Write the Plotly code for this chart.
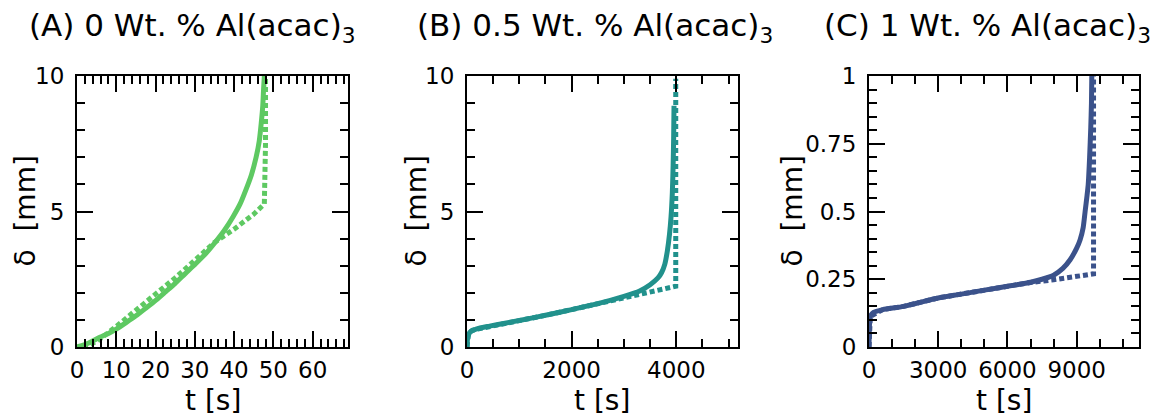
import plotly.graph_objects as go

# ---------------- data ----------------
# Panel A : 0 Wt.% Al(acac)3
a_solid_t = [0, 3, 5.8, 8, 10.2, 12.5, 15, 17.5, 20.2, 22.5, 25, 27.5, 30.2, 33, 35.4, 37.5,
             39.7, 41.5, 43, 44.4, 45.6, 46.4, 46.9, 47.3, 47.5, 47.7]
a_solid_d = [0, 0.15, 0.36, 0.5, 0.68, 0.9, 1.15, 1.43, 1.74, 2.03, 2.35, 2.7, 3.07, 3.48, 3.9,
             4.3, 4.8, 5.27, 5.8, 6.35, 7.0, 7.6, 8.25, 8.9, 9.5, 10]
a_dot_t = [1.5, 5, 10, 15, 20, 25, 30, 35, 40, 45, 47.7, 48.0, 48.0]
a_dot_d = [0, 0.2, 0.76, 1.35, 1.93, 2.55, 3.2, 3.86, 4.35, 4.9, 5.28, 7.5, 9.9]

# Panel B : 0.5 Wt.% Al(acac)3
b_solid_t = [0, 10, 30, 60, 120, 250, 430, 700, 1000, 1500, 2000, 2500, 3000, 3300, 3500,
             3650, 3720, 3780, 3830, 3870, 3900, 3925, 3940, 3950, 3957]
b_solid_d = [0, 0.3, 0.45, 0.55, 0.62, 0.7, 0.77, 0.87, 0.98, 1.17, 1.38, 1.6, 1.87, 2.07, 2.3,
             2.55, 2.75, 3.05, 3.55, 4.15, 4.8, 5.7, 6.7, 7.7, 8.9]
b_dot_t = [0, 30, 100, 500, 1000, 1500, 2000, 2500, 2800, 3000, 3500, 3990, 3990]
b_dot_d = [0, 0.5, 0.62, 0.79, 0.98, 1.17, 1.38, 1.6, 1.75, 1.84, 2.06, 2.24, 9.9]

# Panel C : 1 Wt.% Al(acac)3
c_solid_t = [0, 20, 58, 200, 600, 1500, 3000, 4000, 5000, 6000, 7000, 7500, 8000, 8400, 8716,
             9000, 9149, 9280, 9365, 9450, 9500, 9560, 9610, 9640, 9655]
c_solid_d = [0, 0.08, 0.113, 0.128, 0.138, 0.15, 0.181, 0.195, 0.21, 0.224, 0.239, 0.25, 0.265,
             0.29, 0.322, 0.365, 0.396, 0.44, 0.5, 0.56, 0.6, 0.7, 0.81, 0.9, 1.0]
c_dot_t = [0, 58, 600, 1500, 3000, 5000, 7000, 8000, 9000, 9730, 9730]
c_dot_d = [0, 0.113, 0.138, 0.15, 0.181, 0.21, 0.238, 0.248, 0.26, 0.27, 1.0]

titles = ["(A) 0 Wt. % Al(acac)<sub>3</sub>",
          "(B) 0.5 Wt. % Al(acac)<sub>3</sub>",
          "(C) 1 Wt. % Al(acac)<sub>3</sub>"]
colors = ["#5ec962", "#21918c", "#3b528b"]
x_ranges = [[0, 69], [0, 5180], [0, 11700]]
y_ranges = [[0, 10], [0, 10], [0, 1]]
x_dtick = [10, 2000, 3000]
x_minor = [2, 500, 1000]
y_dtick = [5, 5, 0.25]
y_minor = [1, 1, 0.05]

# ---------------- layout geometry (pixels) ----------------
W, H = 1161, 417
panels_px = [(77, 348), (467, 738), (869, 1139)]
top_px, bot_px = 76, 347
title_left_px = [27, 415, 822]
ytitle_x_px = [25, 416, 792]


def fx(p):
    return p / W


def fy(p):
    return 1 - p / H


FONT = "DejaVu Sans"
fig = go.Figure()

series = [(a_solid_t, a_solid_d, a_dot_t, a_dot_d),
          (b_solid_t, b_solid_d, b_dot_t, b_dot_d),
          (c_solid_t, c_solid_d, c_dot_t, c_dot_d)]

for i, (st, sd, dt, dd) in enumerate(series):
    xa = "x" if i == 0 else f"x{i+1}"
    ya = "y" if i == 0 else f"y{i+1}"
    fig.add_trace(go.Scatter(x=dt, y=dd, mode="lines", xaxis=xa, yaxis=ya,
                             line=dict(color=colors[i], width=5, dash="5px,3px"),
                             showlegend=False, hoverinfo="skip"))
    fig.add_trace(go.Scatter(x=st, y=sd, mode="lines", xaxis=xa, yaxis=ya,
                             line=dict(color=colors[i], width=5, shape="spline", smoothing=0.6),
                             showlegend=False, hoverinfo="skip"))

common = dict(showline=True, linewidth=2, linecolor="black", mirror="allticks",
              ticks="inside", ticklen=16, tickwidth=1.8, tickcolor="black",
              showgrid=False, zeroline=False, automargin=False, tickformat="d",
              tickfont=dict(family=FONT, size=23, color="black"))

layout = dict(width=W, height=H,
              margin=dict(l=0, r=0, t=0, b=0, pad=0, autoexpand=False),
              paper_bgcolor="white", plot_bgcolor="white", showlegend=False)

annotations = []
for i in range(3):
    xk = "xaxis" if i == 0 else f"xaxis{i+1}"
    yk = "yaxis" if i == 0 else f"yaxis{i+1}"
    ya = "y" if i == 0 else f"y{i+1}"
    xa = "x" if i == 0 else f"x{i+1}"
    l, r = panels_px[i]
    layout[xk] = dict(common, domain=[fx(l), fx(r)], range=x_ranges[i], anchor=ya,
                      tick0=0, dtick=x_dtick[i], ticklabelstandoff=1,
                      minor=dict(ticks="inside", ticklen=8, tickwidth=1.8, tickcolor="black",
                                 dtick=x_minor[i], tick0=0, showgrid=False))
    ycfg = dict(common, domain=[fy(bot_px), fy(top_px)], range=y_ranges[i], anchor=xa,
                tick0=0, dtick=y_dtick[i], ticklabelstandoff=6,
                minor=dict(ticks="inside", ticklen=8, tickwidth=1.8, tickcolor="black",
                           dtick=y_minor[i], tick0=0, showgrid=False))
    if i == 2:
        ycfg["tickformat"] = ""
    layout[yk] = ycfg
    # panel title
    annotations.append(dict(text=titles[i], xref="paper", yref="paper",
                            x=fx(title_left_px[i]), y=fy(27), xanchor="left", yanchor="middle",
                            showarrow=False, font=dict(family=FONT, size=31, color="black")))
    # x-axis title
    annotations.append(dict(text="t [s]", xref="paper", yref="paper",
                            x=fx((l + r) / 2), y=fy(400), xanchor="center", yanchor="middle",
                            showarrow=False, font=dict(family=FONT, size=28, color="black")))
    # y-axis title
    annotations.append(dict(text="\u03b4\u00a0\u00a0[mm]", xref="paper", yref="paper",
                            x=fx(ytitle_x_px[i]), y=fy((top_px + bot_px) / 2),
                            xanchor="center", yanchor="middle", textangle=-90,
                            showarrow=False, font=dict(family=FONT, size=28, color="black")))

layout["annotations"] = annotations
fig.update_layout(**layout)
fig.write_html("out.html")
